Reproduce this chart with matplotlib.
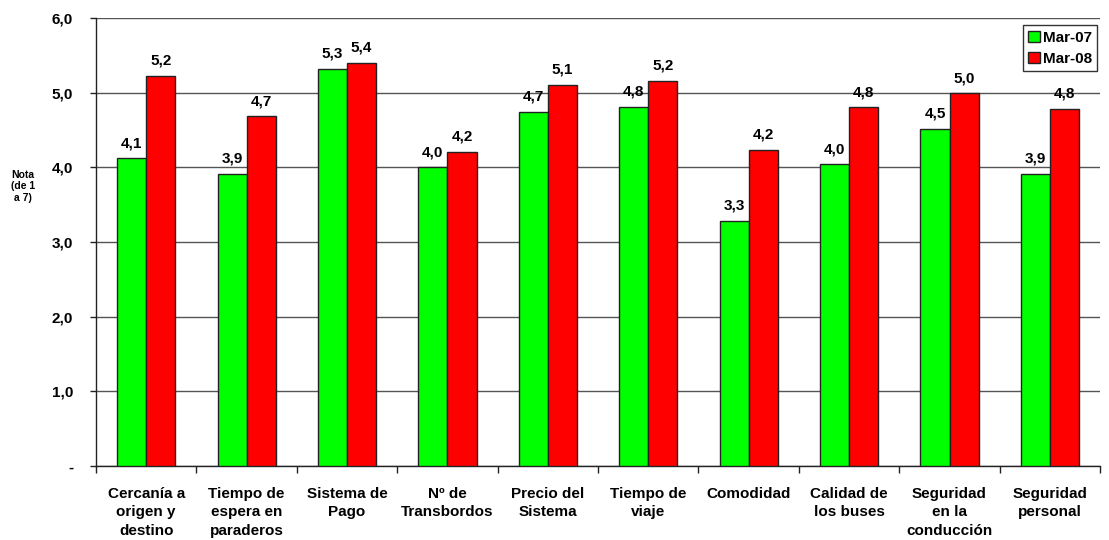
import numpy as np
import matplotlib.pyplot as plt

plt.rcParams['font.family'] = ['Liberation Sans', 'DejaVu Sans']
plt.rcParams['font.weight'] = 'bold'

# Data
categories = ["Cercanía a\norigen y\ndestino", "Tiempo de\nespera en\nparaderos",
              "Sistema de\nPago", "Nº de\nTransbordos", "Precio del\nSistema",
              "Tiempo de\nviaje", "Comodidad", "Calidad de\nlos buses",
              "Seguridad\nen la\nconducción", "Seguridad\npersonal"]
mar07 = [4.12, 3.91, 5.32, 4.00, 4.74, 4.81, 3.28, 4.04, 4.51, 3.91]
mar08 = [5.22, 4.68, 5.40, 4.21, 5.10, 5.16, 4.23, 4.80, 4.99, 4.78]
series_names = ["Mar-07", "Mar-08"]
y_ticks = [0, 1, 2, 3, 4, 5, 6]
y_tick_labels = ["-", "1,0", "2,0", "3,0", "4,0", "5,0", "6,0"]

fig = plt.figure(figsize=(11.09, 5.40), dpi=100)
ax = fig.add_axes([0.0866, 0.137, 0.9054, 0.830])

x = np.arange(len(categories))
w = 0.29
b1 = ax.bar(x - w / 2, mar07, w, color="#00FF00", edgecolor="#222222", linewidth=1, label=series_names[0], zorder=3)
b2 = ax.bar(x + w / 2, mar08, w, color="#FF0000", edgecolor="#222222", linewidth=1, label=series_names[1], zorder=3)

for bars, vals in [(b1, mar07), (b2, mar08)]:
    for r, v in zip(bars, vals):
        ax.text(r.get_x() + r.get_width() / 2, v + 0.11, f"{v:.1f}".replace(".", ","),
                ha="center", va="bottom", fontsize=11, fontweight="bold")

ax.set_xlim(-0.5, len(categories) - 0.5)
ax.set_ylim(0, 6)
ax.set_yticks(y_ticks)
ax.set_yticklabels(y_tick_labels, fontsize=11, fontweight="bold")
ax.yaxis.grid(True, color="#555555", linewidth=1)
ax.set_axisbelow(True)

ax.set_xticks(x)
ax.set_xticklabels(categories, fontsize=11, fontweight="bold", linespacing=1.42)
ax.tick_params(axis="x", length=0, pad=15)
ax.set_xticks(np.arange(len(categories) + 1) - 0.5, minor=True)
ax.tick_params(axis="x", which="minor", length=5, width=1, color="#222222", direction="out")
ax.tick_params(axis="y", length=4.5, width=1, color="#222222", direction="out", pad=12)

for s in ["top", "right"]:
    ax.spines[s].set_visible(False)
for s in ["left", "bottom"]:
    ax.spines[s].set_color("#222222")
    ax.spines[s].set_linewidth(1)

fig.text(0.021, 0.655, "Nota\n(de 1\na 7)", ha="center", va="center", fontsize=7.5, fontweight="bold")

leg = ax.legend(loc="upper right", bbox_to_anchor=(1.0, 0.99), fontsize=11, frameon=True, fancybox=False,
                edgecolor="black", handlelength=0.75, handleheight=0.75, handletextpad=0.2,
                borderpad=0.35, labelspacing=0.45, borderaxespad=0.2)
leg.get_frame().set_linewidth(1)

plt.savefig("out.png", dpi=100)
